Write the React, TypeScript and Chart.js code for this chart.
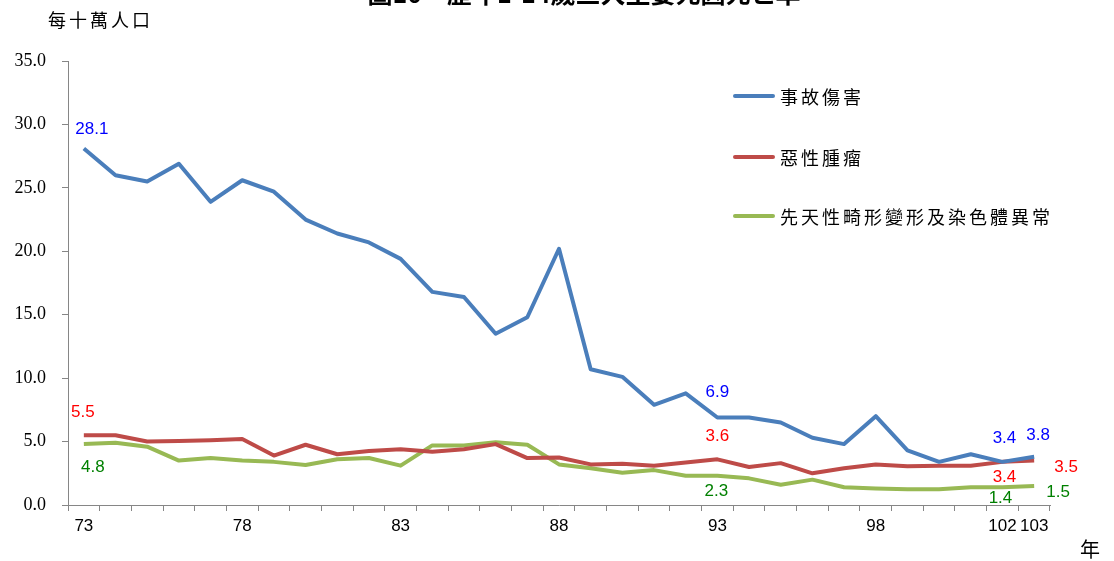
import React, { useEffect, useRef } from "react";
import { Chart, registerables } from "chart.js";

Chart.register(...registerables);

const years = [
  "73", "74", "75", "76", "77", "78", "79", "80", "81", "82", "83", "84", "85", "86", "87",
  "88", "89", "90", "91", "92", "93", "94", "95", "96", "97", "98", "99", "100", "101", "102", "103",
];
const shownYears = ["73", "78", "83", "88", "93", "98", "102", "103"];

const accidents = [
  28.1, 26.0, 25.5, 26.9, 23.9, 25.6, 24.7, 22.5, 21.4, 20.7, 19.4, 16.8, 16.4, 13.5, 14.8,
  20.2, 10.7, 10.1, 7.9, 8.8, 6.9, 6.9, 6.5, 5.3, 4.8, 7.0, 4.3, 3.4, 4.0, 3.4, 3.8,
];
const cancer = [
  5.5, 5.5, 5.0, 5.05, 5.1, 5.2, 3.9, 4.75, 4.0, 4.25, 4.4, 4.2, 4.4, 4.8, 3.7,
  3.75, 3.2, 3.25, 3.1, 3.35, 3.6, 3.0, 3.3, 2.5, 2.9, 3.2, 3.05, 3.1, 3.1, 3.4, 3.5,
];
const congenital = [
  4.8, 4.9, 4.6, 3.5, 3.7, 3.5, 3.4, 3.15, 3.6, 3.7, 3.1, 4.7, 4.7, 4.95, 4.75,
  3.2, 2.9, 2.55, 2.75, 2.3, 2.3, 2.1, 1.6, 2.0, 1.4, 1.3, 1.25, 1.25, 1.4, 1.4, 1.5,
];

const seriesNames = ["事故傷害", "惡性腫瘤", "先天性畸形變形及染色體異常"];
const lineColors = ["#4A7EBB", "#BE4B48", "#98B954"];
const labelColors = ["#0000FF", "#FF0000", "#008000"];

// which points get a value label: [series, index, dx, dy]
const valueLabels: [number, number, number, number][] = [
  [0, 0, 8, -19],
  [1, 0, -1, -23],
  [2, 0, 9, 23],
  [0, 20, 0, -25],
  [1, 20, 0, -23],
  [2, 20, -1, 15],
  [0, 29, 2, -24],
  [1, 29, 2, 15],
  [2, 29, -2, 11],
  [0, 30, 4, -21],
  [1, 30, 32, 7],
  [2, 30, 24, 6],
];

const title = "圖10　歷年1-14歲三大主要死因死亡率";
const yTitle = "每十萬人口";
const xTitle = "年";

const extrasPlugin = {
  id: "extras",
  afterDatasetsDraw(chart: any) {
    const ctx = chart.ctx as CanvasRenderingContext2D;
    const xs = chart.scales.x;
    const ys = chart.scales.y;
    const data = chart.data.datasets.map((d: any) => d.data as number[]);
    ctx.save();
    // value labels
    ctx.font = "17px 'Liberation Sans', sans-serif";
    ctx.textAlign = "center";
    ctx.textBaseline = "middle";
    for (const [s, i, dx, dy] of valueLabels) {
      const v = data[s][i];
      const x = xs.getPixelForValue(i) + dx;
      const y = ys.getPixelForValue(v) + dy;
      ctx.fillStyle = labelColors[s];
      ctx.fillText(v.toFixed(1), x, y);
    }
    // legend
    const legX = 735;
    const legY = [96, 157, 216];
    ctx.textAlign = "left";
    ctx.textBaseline = "middle";
    ctx.font = "18px 'Noto Sans CJK TC', sans-serif";
    seriesNames.forEach((name, k) => {
      ctx.strokeStyle = lineColors[k];
      ctx.lineWidth = 4;
      ctx.lineCap = "round";
      ctx.beginPath();
      ctx.moveTo(legX, legY[k]);
      ctx.lineTo(legX + 38, legY[k]);
      ctx.stroke();
      ctx.fillStyle = "#000";
      Array.from(name).forEach((ch, j) => {
        ctx.fillText(ch, 780 + j * 21, legY[k] + 1);
      });
    });
    // y title
    ctx.font = "18px 'Noto Sans CJK TC', sans-serif";
    Array.from(yTitle).forEach((ch, j) => {
      ctx.fillText(ch, 48 + j * 21, 20);
    });
    // x title
    ctx.font = "20px 'Noto Sans CJK TC', sans-serif";
    ctx.fillText(xTitle, 1080, 549);
    // chart title (cut off at top)
    ctx.font = "bold 25px 'Noto Sans CJK TC', sans-serif";
    ctx.textAlign = "center";
    ctx.textBaseline = "alphabetic";
    ctx.fillText(title, 584, 3);
    ctx.restore();
  },
};

export default function App() {
  const ref = useRef<HTMLCanvasElement>(null);
  useEffect(() => {
    if (!ref.current) return;
    const mk = (d: number[], k: number) => ({
      label: seriesNames[k],
      data: d,
      borderColor: lineColors[k],
      backgroundColor: lineColors[k],
      borderWidth: 4,
      pointRadius: 0,
      tension: 0,
      borderJoinStyle: "round" as const,
      fill: false,
    });
    const chart = new Chart(ref.current, {
      type: "line",
      data: {
        labels: years,
        datasets: [mk(accidents, 0), mk(cancer, 1), mk(congenital, 2)],
      },
      options: {
        responsive: false,
        animation: false,
        layout: { padding: { left: 0, top: 61, right: 64, bottom: 0 } },
        plugins: {
          legend: { display: false },
          tooltip: { enabled: false },
          title: { display: false },
        },
        scales: {
          x: {
            offset: true,
            grid: {
              offset: true,
              drawOnChartArea: false,
              drawTicks: true,
              tickLength: 6,
              color: "#868686",
            },
            border: { display: true, color: "#868686", width: 1 },
            ticks: {
              autoSkip: false,
              maxRotation: 0,
              padding: 5,
              color: "#000",
              font: { family: "'Liberation Sans', sans-serif", size: 17 },
              callback: (_v: any, i: number) => (shownYears.includes(years[i]) ? years[i] : ""),
            },
            afterFit: (s: any) => {
              s.height = 56;
            },
          },
          y: {
            min: 0,
            max: 35,
            grid: {
              drawOnChartArea: false,
              drawTicks: true,
              tickLength: 6,
              color: "#868686",
            },
            border: { display: true, color: "#868686", width: 1 },
            ticks: {
              stepSize: 5,
              padding: 16,
              color: "#000",
              font: { family: "'Liberation Serif', serif", size: 18 },
              callback: (v: any) => Number(v).toFixed(1),
            },
            afterFit: (s: any) => {
              s.width = 68;
            },
          },
        },
      },
      plugins: [extrasPlugin],
    });
    return () => chart.destroy();
  }, []);
  return (
    <div style={{ position: "fixed", left: 0, top: 0, width: 1114, height: 561, background: "#fff" }}>
      <canvas ref={ref} width={1114} height={561} style={{ display: "block" }} />
    </div>
  );
}
